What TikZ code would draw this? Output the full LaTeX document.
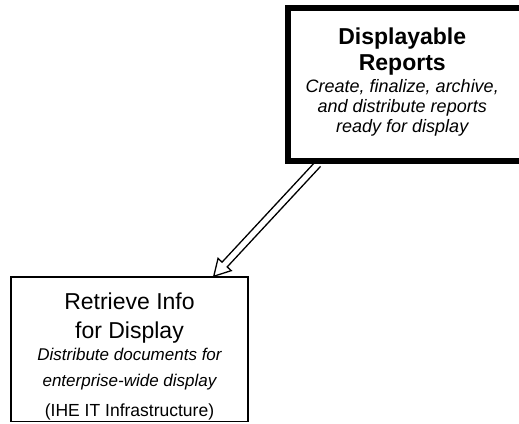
\documentclass[tikz,border=0pt]{standalone}
\usepackage{fontspec}
\setmainfont{Liberation Sans}
\usetikzlibrary{positioning, calc}

\begin{document}
\begin{tikzpicture}[x=1pt, y=-1pt, frame/.style={draw, inner sep=0pt}, title/.style={inner sep=0pt, align=center}, desc/.style={inner sep=0pt, align=center, font=\itshape\fontsize{18}{20}\selectfont}, hollow/.style={draw, line width=1.3pt, line join=miter}]
		\useasboundingbox (0,0) rectangle (519,423);
		\clip (0,0) rectangle (519,423);

		\node[frame, line width=6pt, minimum width=235.5pt, minimum height=153pt] (rep) at (405.25,84.5) {};
		\node[title, font=\bfseries\fontsize{23}{26}\selectfont, below=23pt of rep.north, xshift=-3pt] (reptitle) {Displayable\\Reports};
		\node[desc, below=3pt of reptitle] (repdesc) {Create, finalize, archive,\\and distribute reports\\ready for display};

		\node[frame, line width=1.5pt, minimum width=237pt, minimum height=144.5pt] (ret) at (129.5,349.25) {};
		\node[title, font=\fontsize{23}{29}\selectfont, below=16pt of ret.north] (rettitle) {Retrieve Info\\for Display};
		\node[desc, font=\itshape\fontsize{17}{26}\selectfont, below=5pt of rettitle] (retdesc) {Distribute documents for\\enterprise-wide display};
		\node[title, font=\fontsize{17.5}{20}\selectfont, below=13pt of retdesc] (retsrc) {(IHE IT Infrastructure)};

		% hollow arrow from one box down to the other
		\coordinate (from) at ($(rep.south west)+(33.5,0)$);
		\coordinate (to) at ($(ret.north east)+(-35,0)$);
		\coordinate (head) at ($(to)!16pt!(from)$);
		\draw[hollow] ($(from)!3.5pt!90:(to)$) -- ($(head)!3.5pt!-90:(from)$) -- ($(head)!9pt!-90:(from)$) -- (to) -- ($(head)!9pt!90:(from)$) -- ($(head)!3.5pt!90:(from)$) -- ($(from)!3.5pt!-90:(to)$);
	\end{tikzpicture}
\end{document}
